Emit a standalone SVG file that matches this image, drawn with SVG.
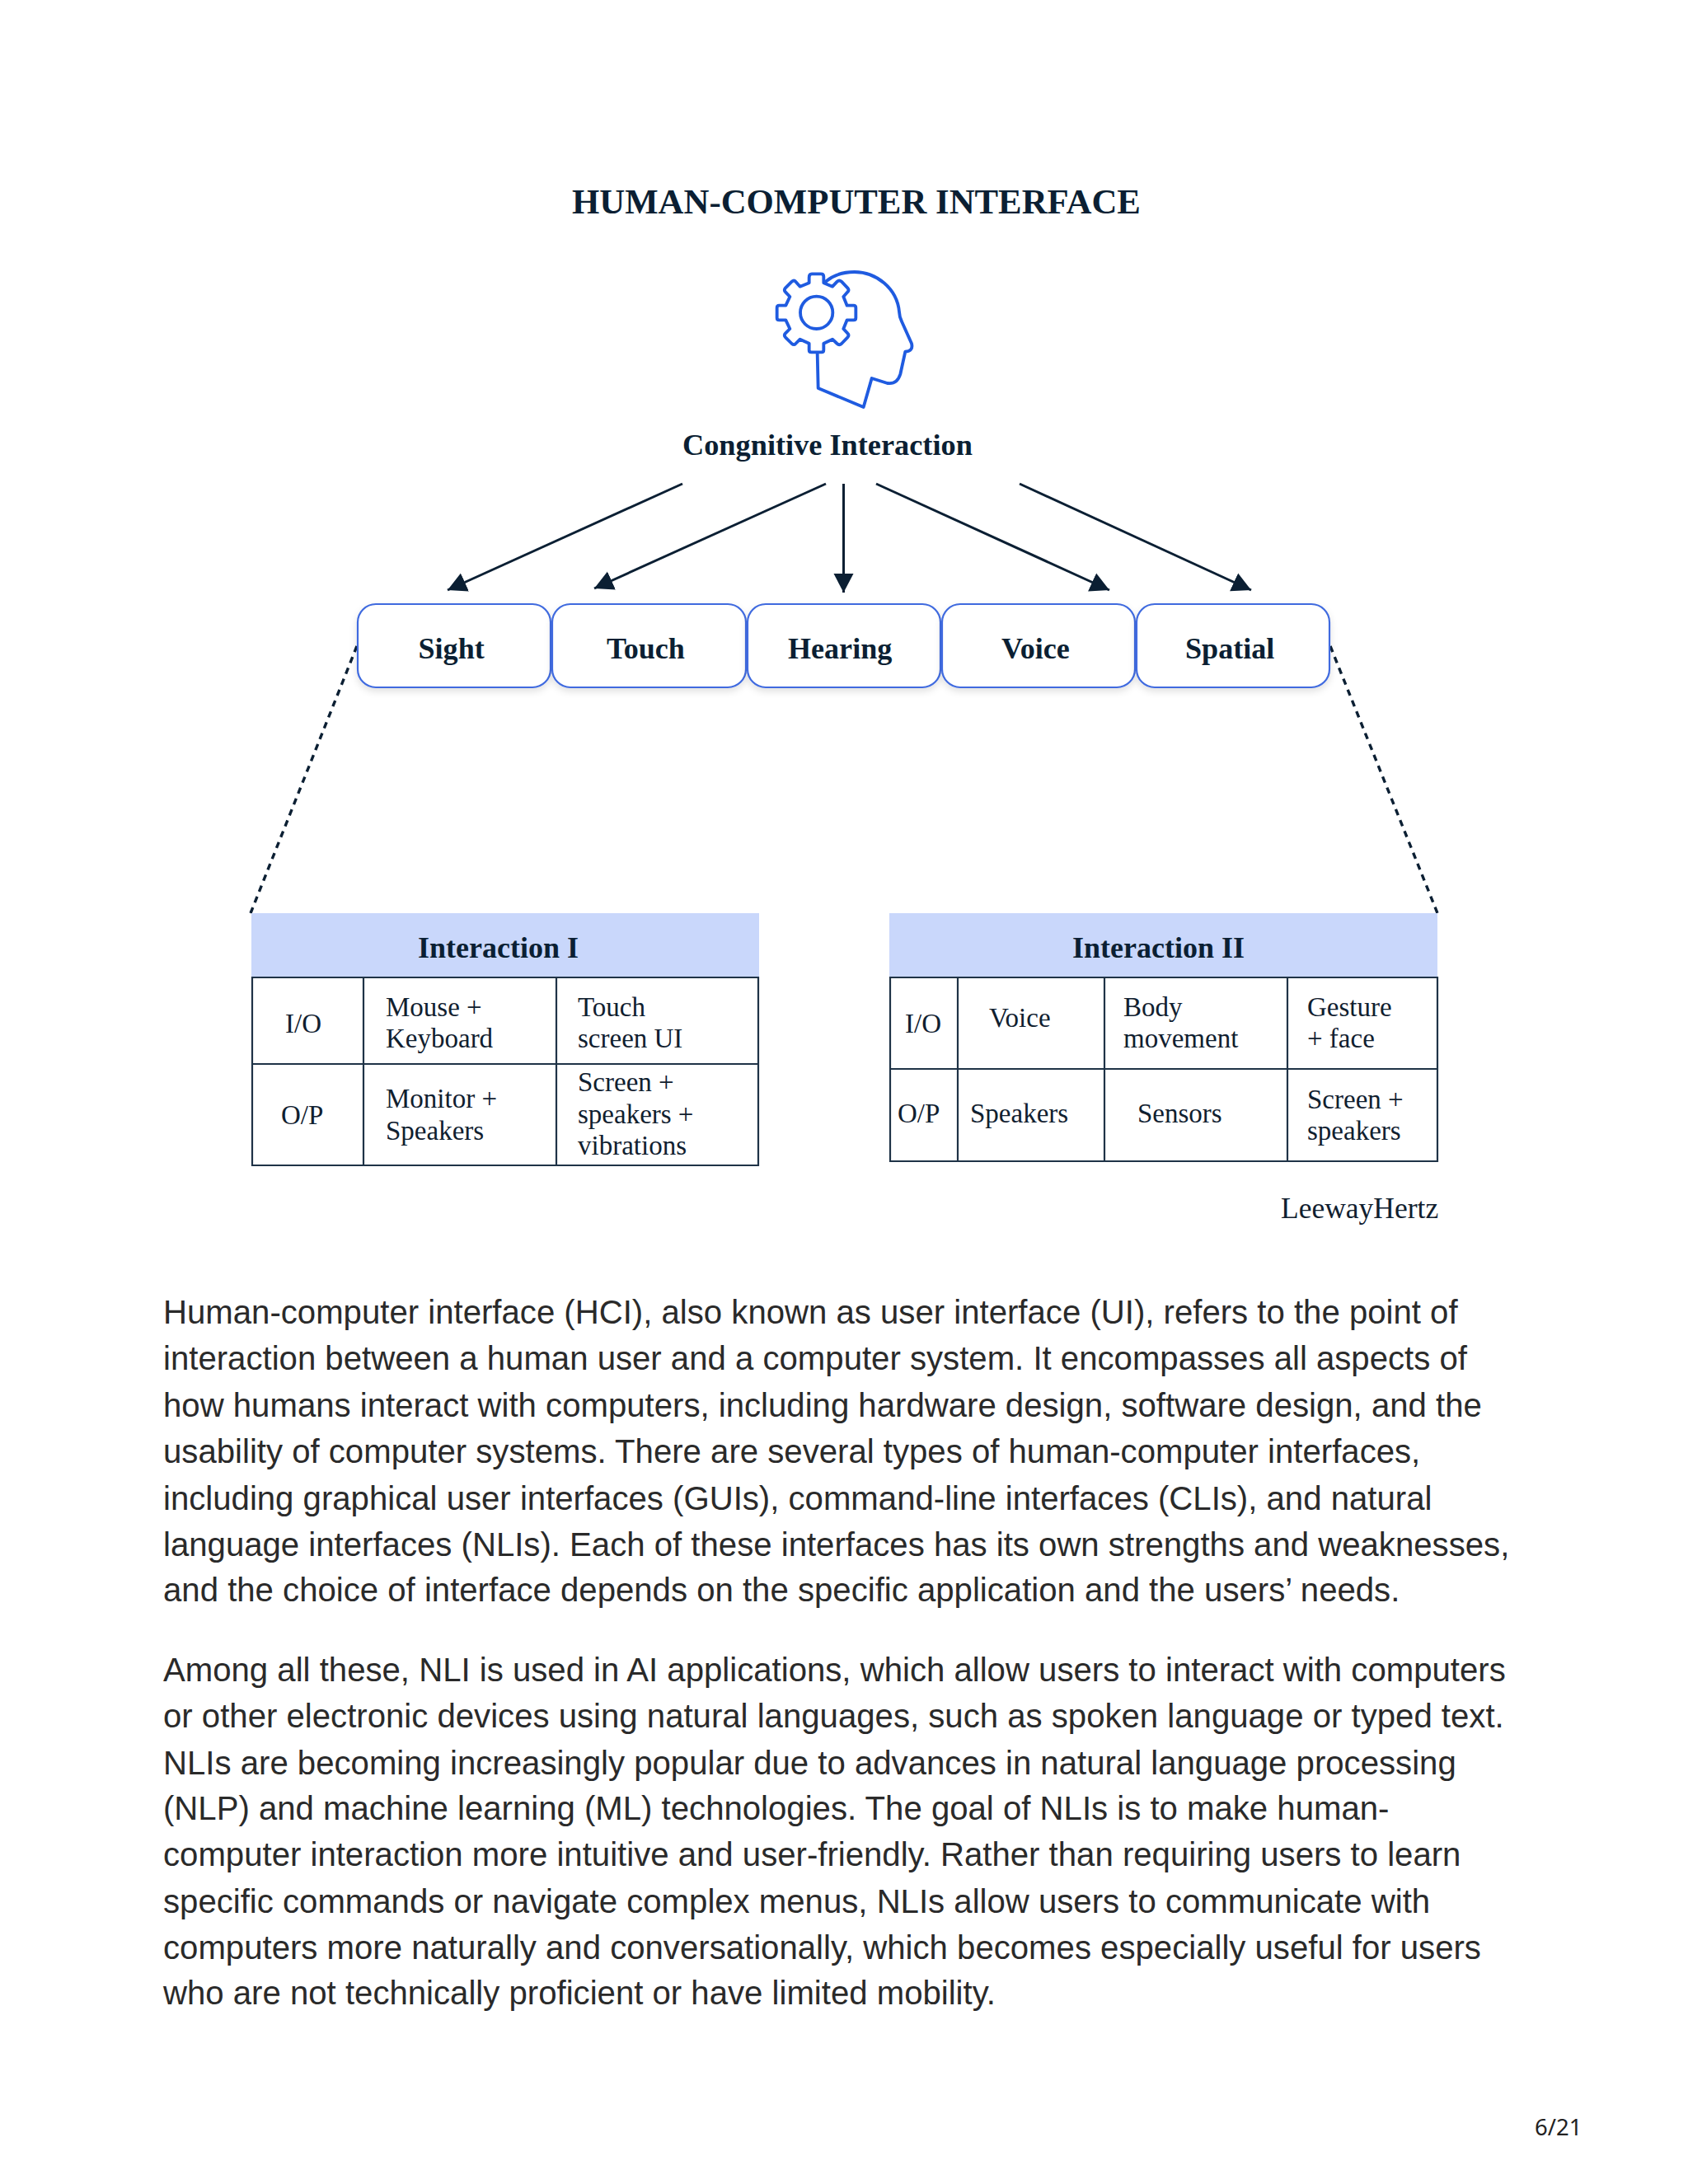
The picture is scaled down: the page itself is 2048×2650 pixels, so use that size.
<svg xmlns="http://www.w3.org/2000/svg" width="2048" height="2650" viewBox="0 0 2048 2650">
<style>
.s{font-family:"Liberation Serif","Times New Roman",serif;fill:#10202f}
.b{font-weight:700;fill:#0b1f33}
.c{font-size:33px}
.h{font-size:36px}
.n{font-size:36.100px}
.p{font-family:"Liberation Sans",Arial,sans-serif;font-size:40.150px;fill:#2a2a2a}
.box{fill:#fff;stroke:#3f6bdf;stroke-width:2.2;filter:url(#sh)}
.hd{fill:#c9d7fb}
.g{fill:none;stroke:#1f3347;stroke-width:2.2}
.ar{stroke:#0b1f33;stroke-width:3;fill:none;marker-end:url(#ah)}
.dot{stroke:#0b1f33;stroke-width:3.400;fill:none;stroke-dasharray:7.700 6.520}
</style>
<defs>
<filter id="sh" x="-10%" y="-10%" width="120%" height="130%"><feDropShadow dx="0" dy="4" stdDeviation="4" flood-color="#000" flood-opacity=".12"/></filter>
<marker id="ah" markerUnits="userSpaceOnUse" markerWidth="24" markerHeight="26" refX="23" refY="13" orient="auto"><path d="M0 1 L23 13 L0 25 Z" fill="#0b1f33"/></marker>
</defs>
<rect width="2048" height="2650" fill="#fff"/>
<text class="s b" x="694" y="259" font-size="42.800">HUMAN-COMPUTER INTERFACE</text>
<g id="icon" transform="translate(880 300) scale(.33333)" fill="none" stroke="#1f5be0" stroke-width="11.500" stroke-linejoin="round" stroke-linecap="round">
<path d="M365 125C395 100 430 90 470 90C550 90 625 150 633 235Q634 255 642 270L678 350Q685 378 655 380L637 462Q625 500 590 495L533 477L503 582L338 513L335 385"/>
<path d="M305 110Q305 97 315 97H348Q358 97 358 107V130L390 143L407 125Q415 118 423 125L445 148Q452 156 445 163L430 180L443 212H467Q475 212 475 220V257Q475 265 467 265H443L430 297L445 313Q452 320 445 328L423 351Q415 358 407 351L390 335L358 350V374Q358 382 350 382H313Q305 382 305 374V350L272 335L256 351Q250 358 242 351L219 328Q212 320 219 313L235 297L220 265H196Q188 265 188 257V220Q188 212 196 212H220L235 180L219 163Q212 156 219 148L242 125Q250 118 256 125L272 143L305 130Z"/>
<circle cx="332" cy="238" r="59"/>
</g>
<text class="s b" id="cog" x="828" y="552" font-size="36.300">Congnitive Interaction</text>
<g id="connectors">
<path class="ar" d="M828 587L543 716"/>
<path class="ar" d="M1002 587L721 714"/>
<path class="ar" d="M1023.500 587V719"/>
<path class="ar" d="M1063 587L1346 716"/>
<path class="ar" d="M1237 587L1518 716"/>
<path class="dot" d="M433 784L304 1108"/>
<path class="dot" d="M1614 784L1744 1108"/>
</g>
<g id="sight"><rect class="box" x="434" y="733" width="234" height="101" rx="22"/><text class="s b n" x="507.500" y="799">Sight</text></g>
<g id="touch"><rect class="box" x="670" y="733" width="235" height="101" rx="22"/><text class="s b n" x="736" y="799">Touch</text></g>
<g id="hearing"><rect class="box" x="907" y="733" width="234" height="101" rx="22"/><text class="s b n" x="956" y="799">Hearing</text></g>
<g id="voice"><rect class="box" x="1143" y="733" width="234" height="101" rx="22"/><text class="s b n" x="1215" y="799">Voice</text></g>
<g id="spatial"><rect class="box" x="1379" y="733" width="234" height="101" rx="22"/><text class="s b n" x="1438" y="799">Spatial</text></g>
<g id="table1">
<rect class="hd" x="305" y="1108" width="616" height="77"/>
<text class="s b h" x="507" y="1162">Interaction I</text>
<path class="g" d="M306 1186H920V1414H306ZM306 1291H920M441 1186V1414M675 1186V1414"/>
<g class="s c">
<text x="346" y="1253">I/O</text><text x="341" y="1364">O/P</text>
<text x="468" y="1233">Mouse +</text><text x="468" y="1271">Keyboard</text>
<text x="701" y="1233">Touch</text><text x="701" y="1271">screen UI</text>
<text x="468" y="1344">Monitor +</text><text x="468" y="1383">Speakers</text>
<text x="701" y="1324">Screen +</text><text x="701" y="1363">speakers +</text><text x="701" y="1401">vibrations</text>
</g>
</g>
<g id="table2">
<rect class="hd" x="1079" y="1108" width="665" height="77"/>
<text class="s b h" x="1301" y="1162">Interaction II</text>
<path class="g" d="M1080 1186H1744V1409H1080ZM1080 1297H1744M1162 1186V1409M1340 1186V1409M1562 1186V1409"/>
<g class="s c">
<text x="1098" y="1253">I/O</text><text x="1089" y="1362">O/P</text>
<text x="1200" y="1246">Voice</text><text x="1177" y="1362">Speakers</text>
<text x="1363" y="1233">Body</text><text x="1363" y="1271">movement</text>
<text x="1380" y="1362">Sensors</text>
<text x="1586" y="1233">Gesture</text><text x="1586" y="1271">+ face</text>
<text x="1586" y="1345">Screen +</text><text x="1586" y="1383">speakers</text>
</g>
</g>
<text class="s" id="credit" x="1554" y="1478" font-size="35.500">LeewayHertz</text>
<g id="body" class="p">
<text x="198" y="1606">Human-computer interface (HCI), also known as user interface (UI), refers to the point of</text>
<text x="198" y="1662">interaction between a human user and a computer system. It encompasses all aspects of</text>
<text x="198" y="1719">how humans interact with computers, including hardware design, software design, and the</text>
<text x="198" y="1775">usability of computer systems. There are several types of human-computer interfaces,</text>
<text x="198" y="1832">including graphical user interfaces (GUIs), command-line interfaces (CLIs), and natural</text>
<text x="198" y="1888">language interfaces (NLIs). Each of these interfaces has its own strengths and weaknesses,</text>
<text x="198" y="1943">and the choice of interface depends on the specific application and the users’ needs.</text>
<text x="198" y="2040">Among all these, NLI is used in AI applications, which allow users to interact with computers</text>
<text x="198" y="2096">or other electronic devices using natural languages, such as spoken language or typed text.</text>
<text x="198" y="2153">NLIs are becoming increasingly popular due to advances in natural language processing</text>
<text x="198" y="2208">(NLP) and machine learning (ML) technologies. The goal of NLIs is to make human-</text>
<text x="198" y="2264">computer interaction more intuitive and user-friendly. Rather than requiring users to learn</text>
<text x="198" y="2321">specific commands or navigate complex menus, NLIs allow users to communicate with</text>
<text x="198" y="2377">computers more naturally and conversationally, which becomes especially useful for users</text>
<text x="198" y="2432">who are not technically proficient or have limited mobility.</text>
</g>
<text id="page" x="1862" y="2591" font-family="Noto Sans,sans-serif" font-size="27.500" fill="#222">6/21</text>
</svg>
